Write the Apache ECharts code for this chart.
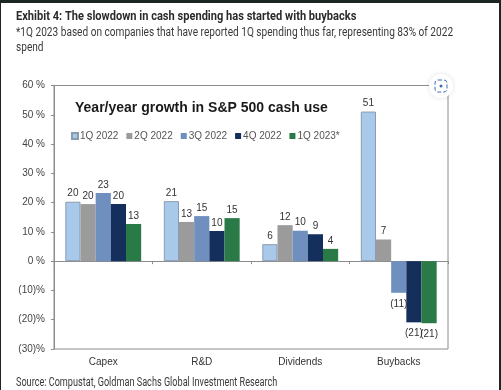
<!DOCTYPE html>
<html>
<head>
<meta charset="utf-8">
<script src="https://cdn.jsdelivr.net/npm/echarts@6/dist/echarts.min.js"></script>
<style>
  html, body { margin: 0; padding: 0; background: #fff; }
  #chart { width: 501px; height: 390px; }
</style>
</head>
<body>
<div id="chart"></div>
<script>
const categories = ['Capex', 'R&D', 'Dividends', 'Buybacks']
const q1_2022 = [20.3, 20.5, 5.8, 51.1]
const q2_2022 = [19.5, 13.4, 12.3, 7.4]
const q3_2022 = [23.3, 15.4, 10.4, -10.8]
const q4_2022 = [19.5, 10.3, 9.2, -20.9]
const q1_2023 = [12.7, 14.7, 4.2, -21.2]

const seriesNames = ['1Q 2022', '2Q 2022', '3Q 2022', '4Q 2022', '1Q 2023*']
const seriesValues = [q1_2022, q2_2022, q3_2022, q4_2022, q1_2023]
const seriesColors = ['#a9c9ea', '#9b9b9b', '#6f8fbf', '#152f5c', '#2a7a48']
const yTicks = { min: -30, max: 60, interval: 10 }

const frameColor = '#1b2620'
const axisColor = '#8c8c8c'

const labelFmt = p => {
  const v = Math.round(p.value)
  return v < 0 ? '(' + (-v) + ')' : String(v)
}

// header text is a condensed face in the original, so squeeze it horizontally
const headerText = (text, y, size, weight, scaleX, color) => ({
  type: 'text', x: 16, y, scaleX,
  style: { text, fontFamily: 'Roboto', fontSize: size, fontWeight: weight, fill: color, textVerticalAlign: 'middle' },
})

const chart = echarts.init(document.getElementById('chart'))
chart.setOption({
  backgroundColor: '#fff',
  animation: false,
  textStyle: { fontFamily: 'Liberation Sans' },
  title: {
    text: 'Year/year growth in S&P 500 cash use',
    left: 75, top: 101,
    padding: 0,
    textStyle: { fontSize: 14, fontWeight: 'bold', color: '#1a1a1a' },
  },
  legend: {
    left: 66, top: 126,
    itemWidth: 6, itemHeight: 6, itemGap: 8,
    icon: 'rect',
    textStyle: { fontSize: 10, color: '#555', padding: [0, 0, 0, -3] },
    data: seriesNames,
  },
  grid: {
    left: 54, right: 53, top: 85.5, bottom: 41,
    show: true, borderColor: axisColor, borderWidth: 1, backgroundColor: 'transparent',
  },
  xAxis: [
    {
      type: 'category', data: categories,
      axisLine: { onZero: true, lineStyle: { color: axisColor } },
      axisTick: { show: true, alignWithLabel: false, length: 3, lineStyle: { color: axisColor } },
      axisLabel: { show: false },
    },
    {
      type: 'category', data: categories, position: 'bottom',
      axisLine: { show: false }, axisTick: { show: false },
      axisLabel: { color: '#333', fontSize: 10, margin: 8, interval: 0 },
    },
  ],
  yAxis: {
    type: 'value', min: yTicks.min, max: yTicks.max, interval: yTicks.interval,
    axisLine: { show: true, lineStyle: { color: axisColor } },
    axisTick: { show: true, length: 3, lineStyle: { color: axisColor } },
    splitLine: { show: false },
    axisLabel: {
      color: '#444', fontSize: 10, margin: 9,
      formatter: v => v < 0 ? '(' + (-v) + ')%' : v + ' %',
    },
  },
  series: seriesNames.map((name, i) => ({
    name, type: 'bar',
    data: seriesValues[i].map(v => ({ value: v, label: { distance: v < 0 ? 6 : 3 } })),
    xAxisIndex: 0,
    barGap: 0, barCategoryGap: '23%',
    itemStyle: { color: seriesColors[i], borderColor: i === 0 ? '#8a9bb0' : 'transparent', borderWidth: i === 0 ? 1 : 0 },
    label: {
      show: true, position: 'outside',
      fontSize: 10, color: '#333', formatter: labelFmt,
    },
  })),
  graphic: [
    headerText('Exhibit 4: The slowdown in cash spending has started with buybacks', 17, 13, 'bold', 0.852, '#2b2b2b'),
    headerText('*1Q 2023 based on companies that have reported 1Q spending thus far, representing 83% of 2022', 33, 12, 'normal', 0.842, '#3a3a3a'),
    headerText('spend', 48, 12, 'normal', 0.842, '#3a3a3a'),
    headerText('Source: Compustat, Goldman Sachs Global Investment Research', 383, 12, 'normal', 0.76, '#3a3a3a'),
    // screenshot button over the top right corner
    { type: 'circle', z: 50, shape: { cx: 441, cy: 86, r: 12 }, style: { fill: '#fff', shadowBlur: 5, shadowColor: 'rgba(0,0,0,0.12)' } },
    { type: 'rect', z: 51, shape: { x: 435, y: 80, width: 12, height: 12, r: 3 }, style: { fill: 'none', stroke: '#3f6fb5', lineWidth: 1, lineDash: [4, 2] } },
    { type: 'circle', z: 51, shape: { cx: 441, cy: 86, r: 1.5 }, style: { fill: '#3f6fb5' } },
    // dark window edge of the screenshot
    { type: 'rect', z: 60, shape: { x: 0, y: 0, width: 501, height: 3 }, style: { fill: frameColor } },
    { type: 'rect', z: 60, shape: { x: 0, y: 0, width: 1, height: 390 }, style: { fill: frameColor } },
    { type: 'rect', z: 60, shape: { x: 499, y: 0, width: 2, height: 390 }, style: { fill: frameColor } },
  ],
})
</script>
</body>
</html>
